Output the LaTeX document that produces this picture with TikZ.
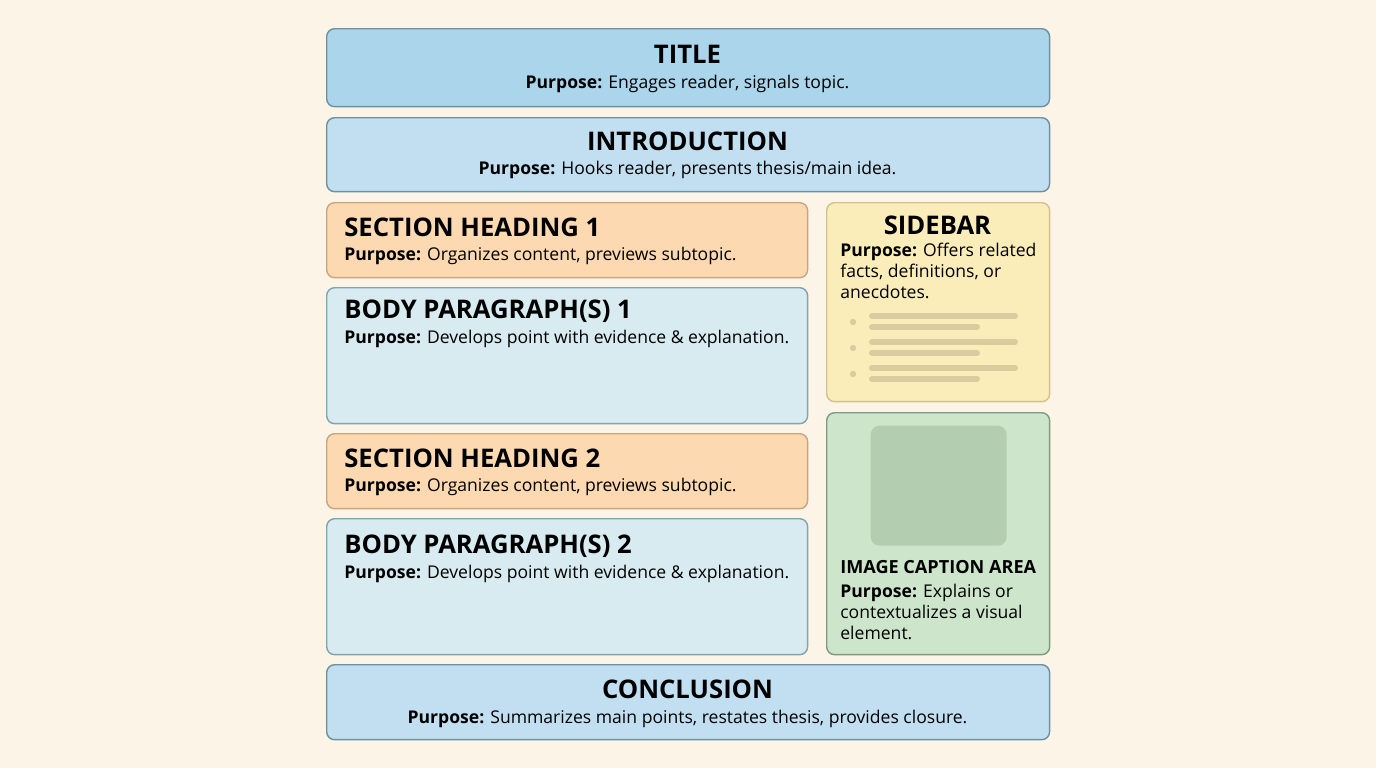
\documentclass[tikz,border=0pt]{standalone}
\usepackage{fontspec}
\setmainfont{Open Sans}
\usetikzlibrary{positioning}
\definecolor{paper}{HTML}{FBF4E7}
\definecolor{titlefill}{HTML}{AAD5EB}
\definecolor{introfill}{HTML}{C1DFF1}
\definecolor{blueline}{HTML}{6F909E}
\definecolor{secfill}{HTML}{FCD9B1}
\definecolor{secline}{HTML}{C9A67E}
\definecolor{bodyfill}{HTML}{D7EBF1}
\definecolor{bodyline}{HTML}{80A3B0}
\definecolor{sidefill}{HTML}{FAEDBA}
\definecolor{sideline}{HTML}{D4C08B}
\definecolor{sidebar}{HTML}{D9CC9F}
\definecolor{imgfill}{HTML}{CDE6CB}
\definecolor{imgline}{HTML}{7F9A80}
\definecolor{imgsquare}{HTML}{B2CDAF}
\tikzset{
  box/.style={draw,rounded corners=4.5pt,line width=0.8pt,anchor=north west,inner sep=0pt},
  head/.style={font=\bfseries\fontsize{14.6}{17}\selectfont,inner sep=0pt},
  purp/.style={font=\fontsize{10}{12}\selectfont,inner sep=0pt},
  para/.style={font=\fontsize{10}{12}\selectfont,inner sep=0pt,align=left,anchor=north west}
}
\begin{document}
\begin{tikzpicture}[x=0.02cm,y=-0.02cm]
  \useasboundingbox[fill=paper] (0,0) rectangle (1376,768);
  % full-width boxes
  \node[box,fill=titlefill,draw=blueline,minimum width=14.46cm,minimum height=1.56cm] (title) at (326,28) {};
  \node[box,fill=introfill,draw=blueline,minimum width=14.46cm,minimum height=1.48cm] (intro) at (326,117) {};
  \node[box,fill=introfill,draw=blueline,minimum width=14.46cm,minimum height=1.50cm] (concl) at (326,664) {};
  % left column
  \node[box,fill=secfill,draw=secline,minimum width=9.62cm,minimum height=1.50cm] (sec1) at (326,202) {};
  \node[box,fill=bodyfill,draw=bodyline,minimum width=9.62cm,minimum height=2.72cm] (body1) at (326,287) {};
  \node[box,fill=secfill,draw=secline,minimum width=9.62cm,minimum height=1.50cm] (sec2) at (326,433) {};
  \node[box,fill=bodyfill,draw=bodyline,minimum width=9.62cm,minimum height=2.72cm] (body2) at (326,518) {};
  % right column
  \node[box,fill=sidefill,draw=sideline,minimum width=4.46cm,minimum height=3.98cm] (side) at (826,202) {};
  \node[box,fill=imgfill,draw=imgline,minimum width=4.46cm,minimum height=4.84cm] (img) at (826,412) {};
  \node[box,draw=none,fill=imgsquare,rounded corners=5pt,minimum width=2.72cm,minimum height=2.40cm] (pic) at (870,425) {};

  \node[head,anchor=base] (titlehead) at (687.5,63) {TITLE};
  \node[purp,anchor=base] (titletext) at (687.5,88) {\textbf{Purpose:} Engages reader, signals topic.};
  \node[head,anchor=base] (introhead) at (687.5,150) {INTRODUCTION};
  \node[purp,anchor=base] (introtext) at (687.5,174) {\textbf{Purpose:} Hooks reader, presents thesis/main idea.};
  \node[head,anchor=base west] (sec1head) at (344,236) {SECTION HEADING 1};
  \node[purp,anchor=base west] (sec1text) at (344,260) {\textbf{Purpose:} Organizes content, previews subtopic.};
  \node[head,anchor=base west] (body1head) at (344,318) {BODY PARAGRAPH(S) 1};
  \node[purp,anchor=base west] (body1text) at (344,343) {\textbf{Purpose:} Develops point with evidence \& explanation.};
  \node[head,anchor=base west] (sec2head) at (344,467) {SECTION HEADING 2};
  \node[purp,anchor=base west] (sec2text) at (344,491) {\textbf{Purpose:} Organizes content, previews subtopic.};
  \node[head,anchor=base west] (body2head) at (344,553) {BODY PARAGRAPH(S) 2};
  \node[purp,anchor=base west] (body2text) at (344,578) {\textbf{Purpose:} Develops point with evidence \& explanation.};
  \node[head,anchor=base] (conclhead) at (687.5,698) {CONCLUSION};
  \node[purp,anchor=base] (concltext) at (687.5,723) {\textbf{Purpose:} Summarizes main points, restates thesis, provides closure.};

  \node[head,anchor=base] (sidehead) at (937.5,234) {SIDEBAR};
  \node[para] (sidetext) at (840,243) {\textbf{Purpose:} Offers related\\facts, definitions, or\\anecdotes.};
  \foreach \y in {316,342,368}{
    \fill[sidebar] (853,\y+6) circle (3.2);
    \draw[sidebar,line width=3.4pt,line cap=round] (872,\y) -- (1015,\y);
    \draw[sidebar,line width=3.4pt,line cap=round] (872,\y+11) -- (977,\y+11);
  }
  \node[head,font=\bfseries\fontsize{10.3}{12}\selectfont,anchor=base west] (imghead) at (840,573) {IMAGE CAPTION AREA};
  \node[para] (imgtext) at (840,584) {\textbf{Purpose:} Explains or\\contextualizes a visual\\element.};
\end{tikzpicture}
\end{document}
